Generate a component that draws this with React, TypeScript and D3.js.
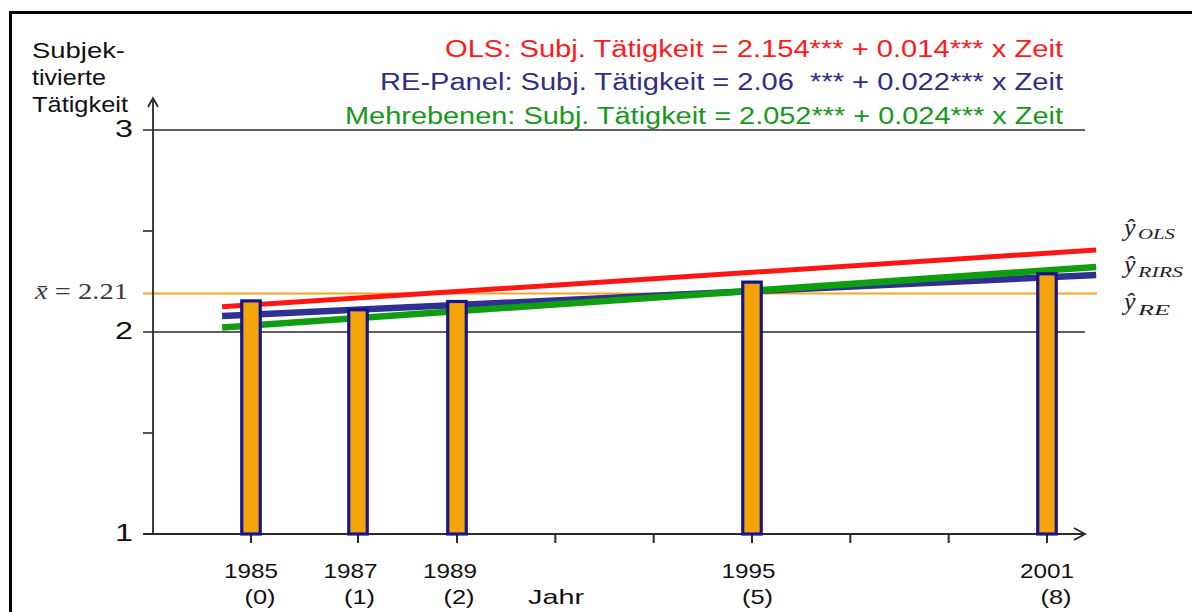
import * as d3 from "d3";

// time index (Zeit) and survey years
const zeit = [0, 1, 2, 5, 8];
const years = ["1985", "1987", "1989", "1995", "2001"];
const barValues = [2.154, 2.11, 2.151, 2.247, 2.288];

const yTicks = [1, 2, 3];
const yMinorTicks = [1.5, 2.5];
const xTicks = [0, 1, 2, 3, 4, 5, 6, 7, 8];

const meanValue = 2.19;
const meanLabel = "2.21";

// fitted lines as drawn: value at start / end of the drawn segment
const fitNames = ["OLS", "RE", "RIRS"];
const fitSpan = [-0.27, 8.5];
const fitStart = [2.125, 2.079, 2.022];
const fitEnd = [2.406, 2.282, 2.322];

const equations = [
  "OLS: Subj. Tätigkeit = 2.154*** + 0.014*** x Zeit",
  "RE-Panel: Subj. Tätigkeit = 2.06  *** + 0.022*** x Zeit",
  "Mehrebenen: Subj. Tätigkeit = 2.052*** + 0.024*** x Zeit",
];
const yTitle = ["Subjek-", "tivierte", "Tätigkeit"];
const hatLabels = ["OLS", "RIRS", "RE"];

const W = 1192;
const H = 612;
const sans = "'Liberation Sans', Arial, sans-serif";
const serif = "'Liberation Serif', 'Times New Roman', serif";

const fitColor: Record<string, string> = {
  OLS: "#ff1414",
  RE: "#2e3192",
  RIRS: "#0f9e0f",
};
const fitWidth: Record<string, number> = { OLS: 5, RE: 6.5, RIRS: 6.5 };
const eqColors = ["#ff1a1a", "#2e2e86", "#16991a"];
const eqLen = [618, 683, 718];
const titleLen = [93, 74, 96];
const hatSubLen = [37, 45, 32];

export default function App() {
  const left = 143;
  const right = 1085;

  // positions of marks and ticks (the original spacing is slightly uneven)
  const x = d3.scaleLinear().domain([0, 1, 2, 8]).range([251, 358, 457, 1047]);
  // positions of the year labels
  const xLab = d3.scaleLinear().domain([0, 8]).range([251, 1047]);
  const y = d3.scaleLinear().domain([1, 3]).range([534, 130]);

  const axisX = 153;
  const grid = "#2a2a2a";

  const line = d3
    .line<{ t: number; v: number }>()
    .x((d) => x(d.t))
    .y((d) => y(d.v));

  const fits = fitNames.map((name, i) => ({
    name,
    d: line([
      { t: fitSpan[0], v: fitStart[i] },
      { t: fitSpan[1], v: fitEnd[i] },
    ])!,
  }));

  // draw order: red, blue, green
  const drawOrder = ["OLS", "RE", "RIRS"];

  const barW = 18.5;

  return (
    <svg
      width={W}
      height={H}
      style={{ position: "absolute", left: 0, top: 0, background: "#fff" }}
    >
      {/* frame */}
      <line x1={10.5} x2={10.5} y1={11} y2={H} stroke="#000" strokeWidth={3} />
      <line x1={9} x2={W} y1={12.5} y2={12.5} stroke="#000" strokeWidth={3} />

      {/* y title */}
      {yTitle.map((t, i) => (
        <text
          key={t}
          x={32}
          y={58 + i * 27}
          fontFamily={sans}
          fontSize={21.5}
          fill="#111"
          textLength={titleLen[i]}
          lengthAdjust="spacingAndGlyphs"
        >
          {t}
        </text>
      ))}

      {/* equations */}
      {equations.map((e, i) => (
        <text
          key={i}
          x={1063}
          y={56.5 + i * 33.5}
          textAnchor="end"
          fontFamily={sans}
          fontSize={23.5}
          fill={eqColors[i]}
          textLength={eqLen[i]}
          lengthAdjust="spacingAndGlyphs"
          style={{ whiteSpace: "pre" }}
        >
          {e}
        </text>
      ))}

      {/* gridlines */}
      {yTicks
        .filter((v) => v > 1)
        .map((v) => (
          <line
            key={v}
            x1={left}
            x2={right}
            y1={y(v)}
            y2={y(v)}
            stroke={grid}
            strokeWidth={1.6}
          />
        ))}
      {yMinorTicks.map((v) => (
        <line
          key={v}
          x1={left}
          x2={axisX}
          y1={y(v)}
          y2={y(v)}
          stroke={grid}
          strokeWidth={1.6}
        />
      ))}

      {/* y tick labels */}
      {yTicks.map((v) => (
        <text
          key={v}
          x={133}
          y={y(v) + 7}
          textAnchor="end"
          fontFamily={sans}
          fontSize={23}
          fill="#111"
          textLength={18}
          lengthAdjust="spacingAndGlyphs"
        >
          {v}
        </text>
      ))}

      {/* mean line */}
      <line
        x1={left}
        x2={1097}
        y1={y(meanValue)}
        y2={y(meanValue)}
        stroke="#f5a623"
        strokeWidth={2}
      />
      <text
        x={35}
        y={299}
        fontFamily={serif}
        fontSize={24}
        fill="#3a3a3a"
        textLength={93}
        lengthAdjust="spacingAndGlyphs"
        style={{ whiteSpace: "pre" }}
      >
        <tspan fontStyle="italic">{"x\u0304"}</tspan>
        {" = " + meanLabel}
      </text>

      {/* fitted lines */}
      {drawOrder.map((n) => {
        const f = fits.find((ff) => ff.name === n)!;
        return (
          <path
            key={n}
            d={f.d}
            fill="none"
            stroke={fitColor[n]}
            strokeWidth={fitWidth[n]}
          />
        );
      })}

      {/* axes */}
      <line x1={left} x2={right} y1={y(1)} y2={y(1)} stroke={grid} strokeWidth={1.8} />
      <path
        d={`M${right - 11},${y(1) - 6} L${right},${y(1)} L${right - 11},${y(1) + 6}`}
        fill="none"
        stroke={grid}
        strokeWidth={1.8}
      />
      <line x1={axisX} x2={axisX} y1={y(1)} y2={98} stroke={grid} strokeWidth={1.8} />
      <path
        d={`M${axisX - 5},${107} L${axisX},${98} L${axisX + 5},${107}`}
        fill="none"
        stroke={grid}
        strokeWidth={1.8}
      />
      {xTicks.map((t) => (
        <line
          key={t}
          x1={x(t)}
          x2={x(t)}
          y1={y(1)}
          y2={y(1) + 9}
          stroke={grid}
          strokeWidth={2}
        />
      ))}

      {/* bars */}
      {zeit.map((t, i) => (
        <rect
          key={t}
          x={x(t) - barW / 2}
          y={y(barValues[i])}
          width={barW}
          height={y(1) - y(barValues[i])}
          fill="#f5a30a"
          stroke="#16168c"
          strokeWidth={3.2}
        />
      ))}

      {/* x labels */}
      {zeit.map((t, i) => (
        <g key={t}>
          <text
            x={xLab(t)}
            y={578}
            textAnchor="middle"
            fontFamily={sans}
            fontSize={21}
            fill="#111"
            textLength={54}
            lengthAdjust="spacingAndGlyphs"
          >
            {years[i]}
          </text>
          <text
            x={xLab(t) + 9}
            y={604}
            textAnchor="middle"
            fontFamily={sans}
            fontSize={21}
            fill="#111"
            textLength={31}
            lengthAdjust="spacingAndGlyphs"
          >
            {`(${t})`}
          </text>
        </g>
      ))}
      <text
        x={528}
        y={604}
        fontFamily={sans}
        fontSize={21}
        fill="#111"
        textLength={56}
        lengthAdjust="spacingAndGlyphs"
      >
        Jahr
      </text>

      {/* hat labels */}
      {hatLabels.map((s, i) => (
        <g key={s}>
          <text
            x={1124}
            y={235.5 + i * 37}
            fontFamily={serif}
            fontStyle="italic"
            fontSize={26}
            fill="#222"
          >
            {"\u0177"}
          </text>
          <text
            x={1138}
            y={239 + i * 38}
            fontFamily={serif}
            fontStyle="italic"
            fontSize={14}
            fill="#222"
            textLength={hatSubLen[i]}
            lengthAdjust="spacingAndGlyphs"
          >
            {s}
          </text>
        </g>
      ))}
    </svg>
  );
}
